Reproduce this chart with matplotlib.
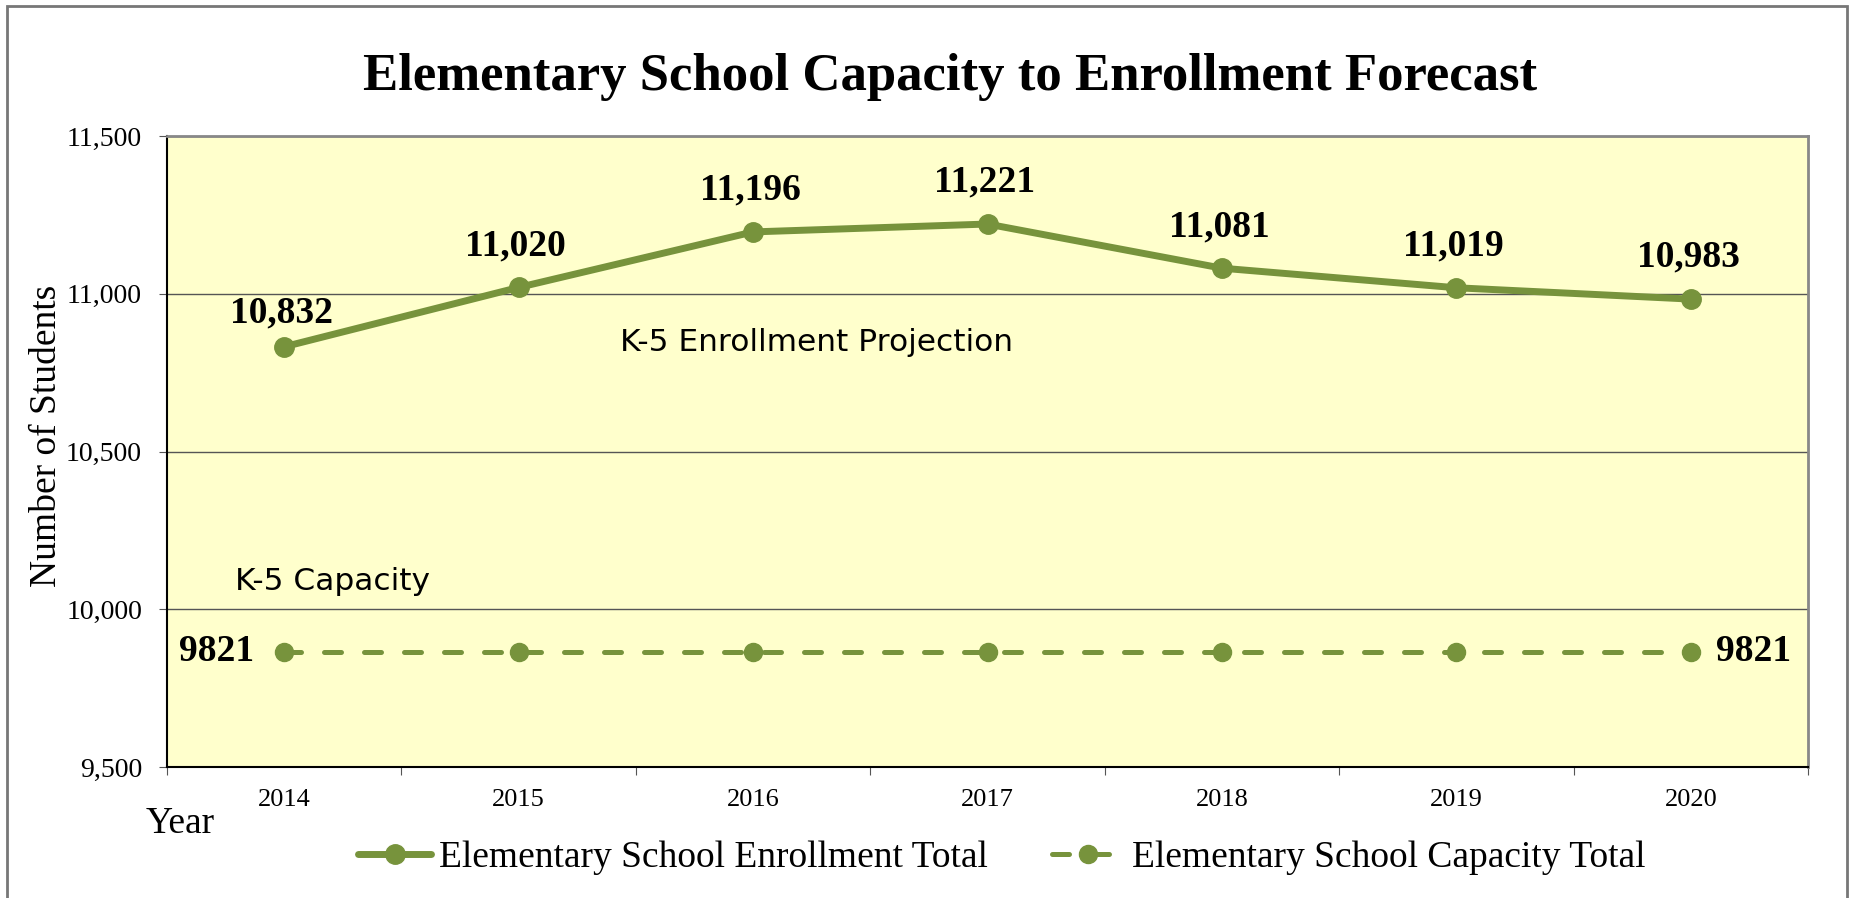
import matplotlib
matplotlib.use('Agg')
import matplotlib.pyplot as plt
from matplotlib.patches import Rectangle

years = ['2014', '2015', '2016', '2017', '2018', '2019', '2020']
enrollment = [10832, 11020, 11196, 11221, 11081, 11019, 10983]
# capacity is drawn a bit above its label value in the original chart
capacity = [9866, 9866, 9866, 9866, 9866, 9866, 9866]
capacity_label = '9821'

green = '#77933C'
serif = 'Liberation Serif'

fig = plt.figure(figsize=(18.5, 8.98), dpi=100)
ax = fig.add_axes([167 / 1850, 1 - 767 / 898, (1808 - 167) / 1850, (767 - 136) / 898])
ax.set_facecolor('#FFFFCC')

x = list(range(len(years)))
ax.plot(x, enrollment, color=green, lw=5, marker='o', ms=14, solid_capstyle='round',
        label='Elementary School Enrollment Total', zorder=3)
ax.plot(x, capacity, color=green, lw=3.6, marker='o', ms=13, dashes=(3.4, 4.6),
        dash_capstyle='round', label='Elementary School Capacity Total', zorder=3)

for i, v in enumerate(enrollment):
    dy = 24 if i == 0 else 30
    ax.annotate(f'{v:,}', (i, v), xytext=(-2, dy), textcoords='offset points',
                ha='center', va='center', fontsize=27, fontweight='bold', family=serif)
ax.annotate(capacity_label, (0, capacity[0]), xytext=(-22, 0), textcoords='offset points',
            ha='right', va='center', fontsize=27, fontweight='bold', family=serif)
ax.annotate(capacity_label, (6, capacity[6]), xytext=(18, 0), textcoords='offset points',
            ha='left', va='center', fontsize=27, fontweight='bold', family=serif)

ax.text(2.27, 10844, 'K-5 Enrollment Projection', ha='center', va='center',
        fontsize=22.5, family='DejaVu Sans')
ax.text(0.205, 10088, 'K-5 Capacity', ha='center', va='center',
        fontsize=22.5, family='DejaVu Sans')

ax.set_xlim(-0.5, 6.5)
ax.set_ylim(9500, 11500)
ax.set_yticks([9500, 10000, 10500, 11000, 11500])
ax.set_yticklabels(['9,500', '10,000', '10,500', '11,000', '11,500'], fontsize=20, family=serif)
ax.yaxis.grid(True, color='#555555', lw=1)
ax.set_axisbelow(True)

ax.set_xticks([i - 0.5 for i in range(8)])
ax.set_xticklabels([])
ax.set_xticks(x, minor=True)
ax.set_xticklabels(years, minor=True, fontsize=19, family=serif)
ax.tick_params(axis='x', which='minor', length=0, pad=16)
ax.tick_params(axis='x', which='major', length=6, color='#555555')
ax.tick_params(axis='y', length=6, color='#555555', pad=12)

for s in ['left', 'bottom']:
    ax.spines[s].set_color('black')
    ax.spines[s].set_linewidth(1.5)
for s in ['top', 'right']:
    ax.spines[s].set_color('#888888')
    ax.spines[s].set_linewidth(2)

fig.text(950 / 1850, 1 - 77 / 898, 'Elementary School Capacity to Enrollment Forecast',
         ha='center', va='center', fontsize=38, fontweight='bold', family=serif)
fig.text(47 / 1850, 1 - 436 / 898, 'Number of Students', rotation=90, ha='center',
         va='center', fontsize=27, family=serif)
fig.text(180 / 1850, 1 - 824 / 898, 'Year', ha='center', va='center', fontsize=27, family=serif)

leg = fig.legend(loc='center', bbox_to_anchor=(1002 / 1850, 1 - 858 / 898), ncol=2,
                 frameon=False, prop={'family': serif, 'size': 27}, handlelength=1.95,
                 columnspacing=1.7, handletextpad=0.2)

fig.add_artist(Rectangle((7 / 1850, -0.05), (1847 - 7) / 1850, 1.05 - 6 / 898,
                         transform=fig.transFigure, fill=False, ec='#777777', lw=2))

fig.savefig('out.png', dpi=100)
